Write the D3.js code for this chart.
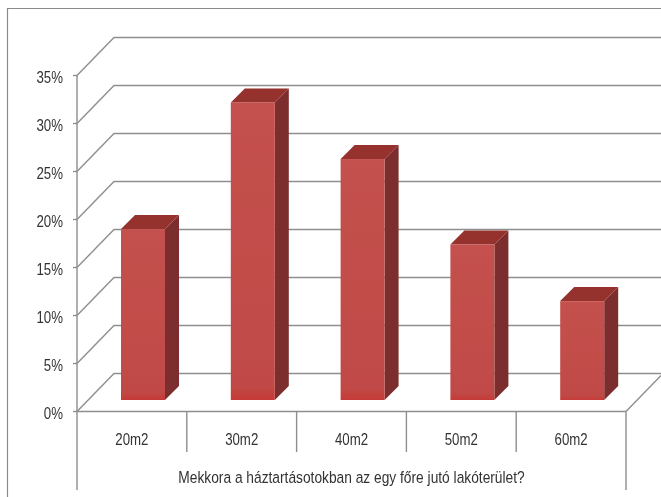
<!DOCTYPE html>
<html><head><meta charset="utf-8">
<script src="https://cdn.jsdelivr.net/npm/d3@7"></script>
<style>html,body{margin:0;padding:0;background:#fff;overflow:hidden}svg{display:block}
text{font-family:"Liberation Sans",Arimo,sans-serif;fill:#333}</style></head><body>
<svg id="c" width="661" height="497"></svg>
<script>
const categories = ["20m2","30m2","40m2","50m2","60m2"];
const values = [17.8,31,25.1,16.2,10.3];
const yTicks = [0,5,10,15,20,25,30,35];
const axisTitle = "Mekkora a háztartásotokban az egy főre jutó lakóterület?";

const svg = d3.select("#c");
const x = d3.scaleBand().domain(categories).range([77,626]);
const y = d3.scaleLinear().domain([0,35]).range([411.5,75.5]);
const wall = {dx:37,dy:-38}, bar = {left:44,w:44,floor:-11.5,dx:14,dy:-14};
const line = "#8e8e8e";
const defs = svg.append("defs");
const f = defs.append("filter").attr("id","soft").attr("filterUnits","userSpaceOnUse")
  .attr("x",0).attr("y",0).attr("width",661).attr("height",497);
f.append("feGaussianBlur").attr("stdDeviation",0.45);
const g = defs.append("linearGradient").attr("id","front").attr("x1",0).attr("x2",0).attr("y1",0).attr("y2",1);
g.append("stop").attr("offset",0).attr("stop-color","#c4514e");
g.append("stop").attr("offset",.95).attr("stop-color","#c04a47");
g.append("stop").attr("offset",1).attr("stop-color","#c63a38");
const root = svg.append("g").attr("filter","url(#soft)");
root.append("rect").attr("width",661).attr("height",497).attr("fill","#fff");

// frame
root.append("path").attr("d","M7.5,497V8.5H661").attr("fill","none").attr("stroke","#8a8a8a").attr("stroke-width",1.2);

// gridlines: side wall and back wall
const grid = root.append("g").attr("fill","none").attr("stroke",line).attr("stroke-width",1.4);
yTicks.forEach(t=>{
  grid.append("path").attr("d",d3.line()([[x.range()[0],y(t)],[x.range()[0]+wall.dx,y(t)+wall.dy],[661,y(t)+wall.dy]]));
});
// floor right edge
grid.append("path").attr("d",d3.line()([[x.range()[1],y(0)],[661,y(0)-(661-x.range()[1])*38/37]]));

// front axis
const ax = root.append("g").attr("fill","none").attr("stroke",line).attr("stroke-width",1.4);
ax.append("path").attr("d",d3.line()([[x.range()[0],y(0)],[x.range()[1],y(0)]]));
ax.append("path").attr("d",d3.line()([[x.range()[0],y(35)],[x.range()[0],490]]));
ax.append("path").attr("d",d3.line()([[x.range()[1],y(0)],[x.range()[1],490]]));
categories.slice(1).forEach(c=>ax.append("path").attr("d",d3.line()([[x(c),y(0)],[x(c),452]])));
yTicks.forEach(t=>ax.append("path").attr("d",d3.line()([[73,y(t)],[77,y(t)]])));

// bars
const bars = root.append("g").selectAll("g").data(categories.map((c,i)=>({c,v:values[i]}))).join("g");
const pts = (d)=>{const l=x(d.c)+bar.left,r=l+bar.w,b=y(0)+bar.floor,t=y(d.v)+bar.floor;return {l,r,b,t};};
bars.append("path").attr("fill","#7c2f2d").attr("d",d=>{const p=pts(d);
  return d3.line()([[p.r,p.t],[p.r+bar.dx,p.t+bar.dy],[p.r+bar.dx,p.b+bar.dy],[p.r,p.b]])+"Z";});
bars.append("path").attr("fill","#96302e").attr("d",d=>{const p=pts(d);
  return d3.line()([[p.l,p.t],[p.l+bar.dx,p.t+bar.dy],[p.r+bar.dx,p.t+bar.dy],[p.r,p.t]])+"Z";});
bars.append("rect").attr("fill","url(#front)").attr("x",d=>pts(d).l).attr("y",d=>pts(d).t)
  .attr("width",bar.w).attr("height",d=>pts(d).b-pts(d).t);

// labels (condensed by a horizontal scale, as the reference face is narrow)
const squeeze = 0.78, titleSqueeze = 0.81;
root.append("g").selectAll("text").data(yTicks).join("text")
  .attr("transform",t=>`translate(63,${y(t)+7}) scale(${squeeze},1)`).attr("text-anchor","end")
  .attr("font-size",17).text(t=>t+"%");
root.append("g").selectAll("text").data(categories).join("text")
  .attr("transform",c=>`translate(${x(c)+x.bandwidth()/2},445) scale(${squeeze},1)`).attr("text-anchor","middle")
  .attr("font-size",17).text(c=>c);
root.append("text").attr("transform",`translate(351.5,483) scale(${titleSqueeze},1)`).attr("text-anchor","middle")
  .attr("font-size",17).text(axisTitle);
</script></body></html>
